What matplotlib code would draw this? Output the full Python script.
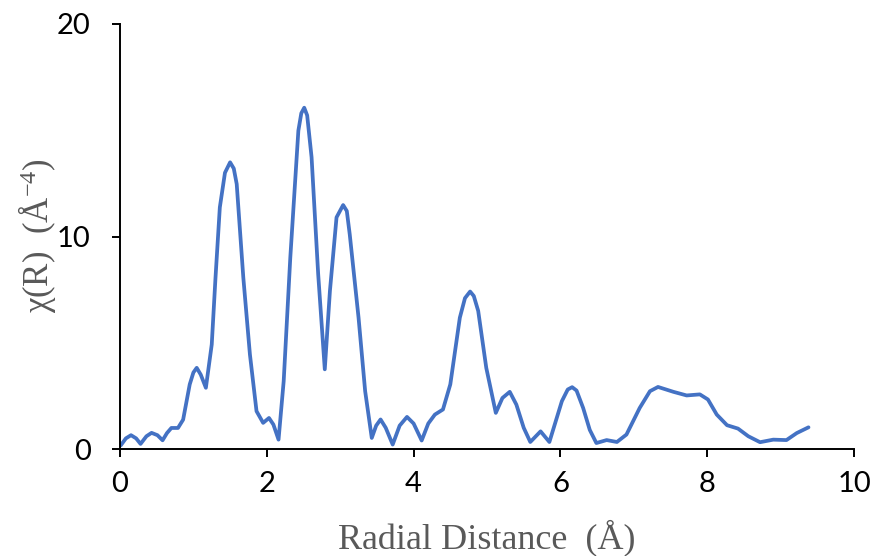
import matplotlib
matplotlib.use("Agg")
import matplotlib.pyplot as plt

plt.rcParams["mathtext.fontset"] = "custom"
plt.rcParams["mathtext.rm"] = "Liberation Serif"
plt.rcParams["mathtext.it"] = "Liberation Serif:italic"
plt.rcParams["mathtext.default"] = "rm"

r_values = [0.01, 0.08, 0.15, 0.22, 0.28, 0.36, 0.43, 0.51, 0.58, 0.64, 0.70, 0.79, 0.86, 0.95,
            1.00, 1.045, 1.10, 1.17, 1.25, 1.30, 1.36, 1.43, 1.50, 1.55, 1.59, 1.68, 1.77, 1.86,
            1.95, 2.03, 2.09, 2.16, 2.23, 2.32, 2.43, 2.47, 2.51, 2.55, 2.61, 2.70, 2.79, 2.86,
            2.95, 3.04, 3.09, 3.13, 3.25, 3.34, 3.43, 3.49, 3.55, 3.62, 3.715, 3.81, 3.91, 4.00,
            4.11, 4.20, 4.29, 4.40, 4.50, 4.63, 4.70, 4.77, 4.82, 4.88, 4.99, 5.12, 5.21, 5.31,
            5.40, 5.50, 5.59, 5.73, 5.85, 6.02, 6.10, 6.16, 6.22, 6.31, 6.40, 6.49, 6.63, 6.77,
            6.90, 7.08, 7.22, 7.33, 7.54, 7.72, 7.90, 8.01, 8.13, 8.27, 8.42, 8.56, 8.72, 8.90,
            9.08, 9.22, 9.38]
chi_values = [0.17, 0.50, 0.65, 0.50, 0.24, 0.60, 0.76, 0.65, 0.41, 0.75, 0.99, 0.99, 1.38, 3.04,
              3.60, 3.82, 3.50, 2.88, 4.92, 8.00, 11.37, 13.00, 13.49, 13.20, 12.47, 8.07, 4.45, 1.78,
              1.23, 1.46, 1.15, 0.44, 3.19, 9.00, 14.98, 15.80, 16.06, 15.70, 13.73, 8.23, 3.75, 7.44,
              10.90, 11.48, 11.20, 10.10, 6.18, 2.72, 0.52, 1.10, 1.39, 1.00, 0.21, 1.10, 1.51, 1.20,
              0.40, 1.20, 1.62, 1.86, 3.04, 6.18, 7.10, 7.41, 7.20, 6.50, 3.82, 1.70, 2.40, 2.69,
              2.09, 1.00, 0.33, 0.83, 0.33, 2.25, 2.80, 2.91, 2.75, 1.93, 0.90, 0.28, 0.42, 0.33,
              0.68, 1.93, 2.72, 2.92, 2.69, 2.52, 2.57, 2.33, 1.62, 1.12, 0.96, 0.60, 0.32, 0.44,
              0.42, 0.75, 1.02]

x_ticks = [0, 2, 4, 6, 8, 10]
y_ticks = [0, 10, 20]

fig = plt.figure(figsize=(8.76, 5.56), dpi=100)
ax = fig.add_axes([120/876, 107/556, 734/876, 425/556])
ax.plot(r_values, chi_values, color="#4472C4", linewidth=2.7,
        solid_joinstyle="round", solid_capstyle="round")
ax.set_xlim(0, 10)
ax.set_ylim(0, 20)
ax.set_xticks(x_ticks)
ax.set_yticks(y_ticks)
for s in ["top", "right"]:
    ax.spines[s].set_visible(False)
for s in ["left", "bottom"]:
    ax.spines[s].set_linewidth(1.4)
    ax.spines[s].set_color("black")
ax.tick_params(direction="out", length=6, width=1.4, labelsize=21)
ax.tick_params(axis="x", pad=10)
ax.tick_params(axis="y", pad=15)
for lab in ax.get_xticklabels() + ax.get_yticklabels():
    lab.set_fontfamily("Lato")
fig.text(487/876, 1 - 538/556, "Radial Distance  (Å)", fontsize=26,
         family="Liberation Serif", color="#595959", ha="center", va="center")
fig.text(37/876, 1 - 236/556, "χ(R)  (Å$^{-4}$)", fontsize=25, rotation=90,
         family="Liberation Serif", color="#595959", ha="center", va="center")
fig.savefig("out.png", dpi=100)
